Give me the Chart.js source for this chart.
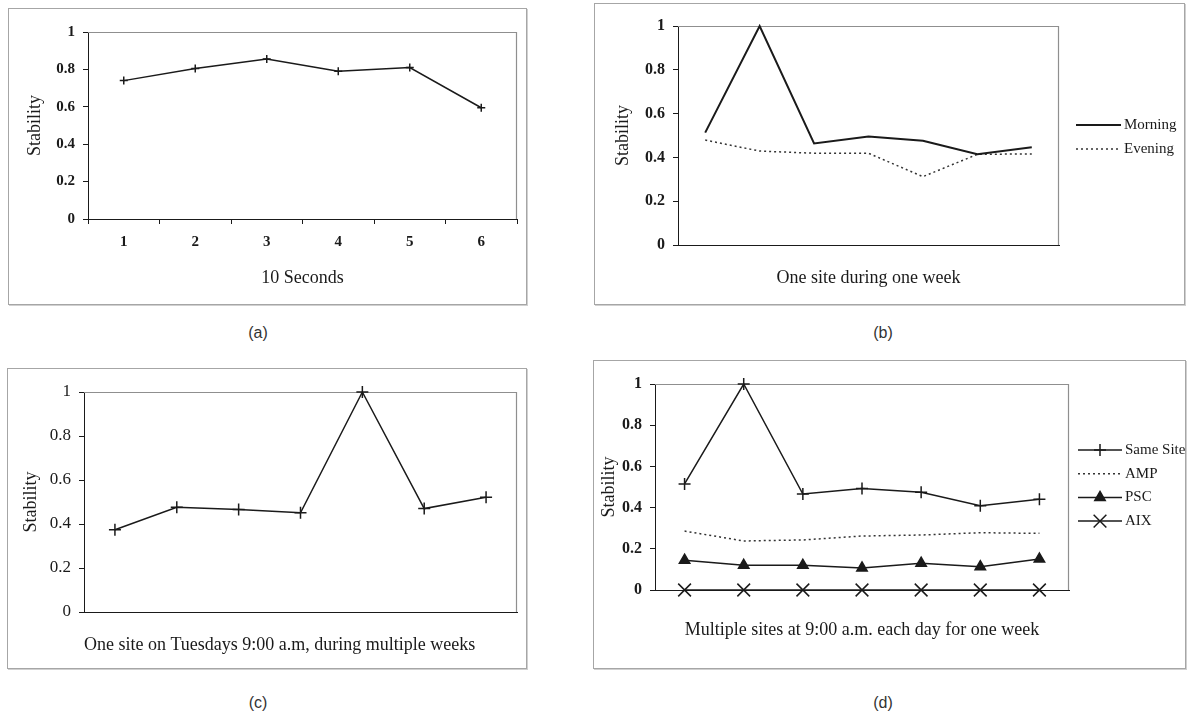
<!DOCTYPE html>
<html>
<head>
<meta charset="utf-8">
<script src="https://cdn.jsdelivr.net/npm/chart.js@4.4.0/dist/chart.umd.min.js"></script>
<style>
  html, body { margin: 0; padding: 0; background: #fff; }
  #page { position: relative; width: 1193px; height: 717px; overflow: hidden; }
  .box { position: absolute; box-sizing: border-box; border: 1px solid #a6a6a6; box-shadow: 1px 1px 0 #d0d0d0; }
  canvas { position: absolute; }
  .cap { position: absolute; width: 60px; margin-left: -30px; height: 20px; line-height: 20px; text-align: center;
         font: 16px 'Liberation Sans', Arial, sans-serif; color: #333; }
</style>
</head>
<body>
<div id="page"></div>
<script>
// (a) stability over 10 second samples
const secLabels = ['1', '2', '3', '4', '5', '6'];
const secStability = [0.74, 0.805, 0.855, 0.79, 0.81, 0.595];

// (b) one site during one week
const weekDays = ['1', '2', '3', '4', '5', '6', '7'];
const morning = [0.513, 1.0, 0.464, 0.495, 0.476, 0.414, 0.446];
const evening = [0.479, 0.429, 0.419, 0.419, 0.312, 0.414, 0.416];

// (c) tuesdays 9:00 over several weeks
const tuesdayWeeks = ['1', '2', '3', '4', '5', '6', '7'];
const tuesdays = [0.374, 0.476, 0.466, 0.451, 1.0, 0.470, 0.522];

// (d) multiple sites, 9:00 each day
const sameSite = [0.515, 1.0, 0.466, 0.493, 0.474, 0.409, 0.440];
const amp = [0.286, 0.238, 0.243, 0.262, 0.267, 0.278, 0.275];
const psc = [0.145, 0.12, 0.12, 0.107, 0.13, 0.113, 0.15];
const aix = [0, 0, 0, 0, 0, 0, 0];

const yTicks = [0, 0.2, 0.4, 0.6, 0.8, 1];

const SERIF = "'Liberation Serif', 'Times New Roman', serif";
const INK = '#1a1a1a';

function drawMarker(ctx, style, x, y, r, bw) {
  ctx.save();
  ctx.strokeStyle = INK;
  ctx.fillStyle = INK;
  ctx.lineWidth = bw || 1;
  ctx.setLineDash([]);
  ctx.beginPath();
  if (style === 'cross') {
    ctx.moveTo(x - r, y); ctx.lineTo(x + r, y);
    ctx.moveTo(x, y - r); ctx.lineTo(x, y + r);
    ctx.stroke();
  } else if (style === 'crossRot') {
    const d = r * Math.SQRT1_2;
    ctx.moveTo(x - d, y - d); ctx.lineTo(x + d, y + d);
    ctx.moveTo(x - d, y + d); ctx.lineTo(x + d, y - d);
    ctx.stroke();
  } else if (style === 'triangle') {
    ctx.moveTo(x, y - r);
    ctx.lineTo(x + 0.866 * r, y + 0.5 * r);
    ctx.lineTo(x - 0.866 * r, y + 0.5 * r);
    ctx.closePath();
    ctx.fill();
    ctx.stroke();
  }
  ctx.restore();
}

// legend at the right side: line sample with marker in the middle
const sideLegend = {
  id: 'sideLegend',
  afterDraw(chart, args, opts) {
    if (!opts.show) return;
    const ctx = chart.ctx;
    chart.data.datasets.forEach((ds, i) => {
      const y = opts.y + i * opts.dy;
      ctx.save();
      ctx.strokeStyle = ds.borderColor;
      ctx.lineWidth = ds.borderWidth;
      ctx.setLineDash(ds.borderDash || []);
      ctx.beginPath();
      ctx.moveTo(opts.x0, y);
      ctx.lineTo(opts.x1, y);
      ctx.stroke();
      if (ds.pointRadius > 0) {
        drawMarker(ctx, ds.pointStyle, (opts.x0 + opts.x1) / 2, y, ds.pointRadius, ds.pointBorderWidth);
      }
      ctx.fillStyle = INK;
      ctx.font = opts.size + 'px ' + SERIF;
      ctx.textBaseline = 'middle';
      ctx.textAlign = 'left';
      ctx.fillText(ds.label, opts.x1 + 3, y);
      ctx.restore();
    });
  }
};

// grey frame on top and right of the plot area
const plotFrame = {
  id: 'plotFrame',
  beforeDatasetsDraw(chart) {
    const { ctx, chartArea: a } = chart;
    ctx.save();
    ctx.strokeStyle = '#8f8f8f';
    ctx.lineWidth = 1.2;
    ctx.beginPath();
    ctx.moveTo(a.left, a.top + 0.5);
    ctx.lineTo(a.right - 0.5, a.top + 0.5);
    ctx.lineTo(a.right - 0.5, a.bottom);
    ctx.stroke();
    ctx.restore();
  }
};

function line(label, data, extra) {
  return Object.assign({
    label, data,
    borderColor: INK, borderWidth: 1.5,
    pointRadius: 0, pointStyle: 'cross',
    pointBorderColor: INK, pointBackgroundColor: INK, pointBorderWidth: 1.5,
    fill: false, tension: 0, clip: false
  }, extra || {});
}

function panel(p) {
  const page = document.getElementById('page');
  const [bl, bt, br, bb] = p.box;
  const [pl, pt, pr, pb] = p.plot;
  const w = br - bl, h = bb - bt;

  const cv = document.createElement('canvas');
  cv.width = w; cv.height = h;
  cv.style.left = bl + 'px'; cv.style.top = bt + 'px';
  cv.style.width = w + 'px'; cv.style.height = h + 'px';
  page.appendChild(cv);

  const frame = document.createElement('div');
  frame.className = 'box';
  frame.style.left = bl + 'px'; frame.style.top = bt + 'px';
  frame.style.width = (w + 1) + 'px'; frame.style.height = (h + 1) + 'px';
  page.appendChild(frame);

  const cap = document.createElement('div');
  cap.className = 'cap';
  cap.textContent = p.caption;
  cap.style.left = p.capAt[0] + 'px';
  cap.style.top = (p.capAt[1] - 10) + 'px';
  page.appendChild(cap);

  const half = 18 * 1.2 / 2;
  const legendOpts = p.legend
    ? Object.assign({ show: true }, p.legend, { x0: p.legend.x0 - bl, x1: p.legend.x1 - bl, y: p.legend.y - bt })
    : { show: false };

  new Chart(cv, {
    type: 'line',
    data: { labels: p.labels, datasets: p.datasets },
    plugins: [plotFrame, sideLegend],
    options: {
      responsive: false,
      animation: false,
      devicePixelRatio: 1,
      layout: { padding: { left: 0, top: pt - bt, right: br - pr, bottom: 0 } },
      plugins: {
        legend: { display: false },
        tooltip: { enabled: false },
        sideLegend: legendOpts
      },
      scales: {
        x: {
          type: 'category',
          offset: true,
          afterFit: (s) => { s.height = bb - pb; },
          grid: { display: p.xTicks, offset: true, drawOnChartArea: false, tickLength: 5, color: INK, lineWidth: 1 },
          border: { display: true, color: INK, width: 1 },
          ticks: {
            display: p.xTicks, padding: 9, color: INK, autoSkip: false, maxRotation: 0,
            font: { family: SERIF, size: p.tickSize, weight: p.tickWeight }
          },
          title: {
            display: true, text: p.xTitle, color: INK, align: p.xTitleAlign || 'center',
            font: { family: SERIF, size: 18 },
            padding: { top: 0, bottom: bb - p.xTitleY - half }
          }
        },
        y: {
          min: 0, max: 1,
          afterBuildTicks: (s) => { s.ticks = yTicks.map((v) => ({ value: v })); },
          afterFit: (s) => { s.width = pl - bl; },
          grid: { drawOnChartArea: false, tickLength: 5, color: INK, lineWidth: 1 },
          border: { display: true, color: INK, width: 1 },
          ticks: {
            padding: 8, color: INK,
            callback: (v) => String(v),
            font: { family: SERIF, size: p.tickSize, weight: p.tickWeight }
          },
          title: {
            display: true, text: 'Stability', color: INK,
            font: { family: SERIF, size: 18 },
            padding: { top: p.yTitleX - bl - half, bottom: 0 }
          }
        }
      }
    }
  });
}

panel({
  caption: '(a)', capAt: [258, 334],
  box: [8, 8, 526, 304], plot: [88, 32, 517, 219],
  xTitle: '10 Seconds', xTitleY: 278, yTitleX: 35,
  xTicks: true, tickSize: 15, tickWeight: 'bold',
  labels: secLabels,
  datasets: [line('Stability', secStability, { pointRadius: 4 })]
});

panel({
  caption: '(b)', capAt: [883, 334],
  box: [594, 3, 1184, 304], plot: [678, 26, 1059, 245],
  xTitle: 'One site during one week', xTitleY: 278, yTitleX: 623,
  xTicks: false, tickSize: 16, tickWeight: 'bold',
  labels: weekDays,
  legend: { x0: 1076, x1: 1121, y: 125, dy: 24, size: 15 },
  datasets: [
    line('Morning', morning, { borderWidth: 2 }),
    line('Evening', evening, { borderDash: [2, 3], borderColor: '#333' })
  ]
});

panel({
  caption: '(c)', capAt: [258, 704],
  box: [7, 368, 526, 668], plot: [84, 392, 517, 612],
  xTitle: 'One site on Tuesdays 9:00 a.m, during multiple weeks', xTitleY: 645, yTitleX: 31,
  xTitleAlign: 'start',
  xTicks: false, tickSize: 17, tickWeight: 'normal',
  labels: tuesdayWeeks,
  datasets: [line('Stability', tuesdays, { pointRadius: 6 })]
});

panel({
  caption: '(d)', capAt: [883, 704],
  box: [593, 360, 1185, 668], plot: [655, 384, 1069, 590],
  xTitle: 'Multiple sites at 9:00 a.m. each day for one week', xTitleY: 630, yTitleX: 609,
  xTicks: false, tickSize: 16, tickWeight: 'bold',
  labels: weekDays,
  legend: { x0: 1078, x1: 1122, y: 450, dy: 23.7, size: 15 },
  datasets: [
    line('Same Site', sameSite, { pointRadius: 6 }),
    line('AMP', amp, { borderDash: [2, 3], borderColor: '#333' }),
    line('PSC', psc, { pointRadius: 6, pointStyle: 'triangle' }),
    line('AIX', aix, { pointRadius: 9, pointStyle: 'crossRot' })
  ]
});
</script>
</body>
</html>
